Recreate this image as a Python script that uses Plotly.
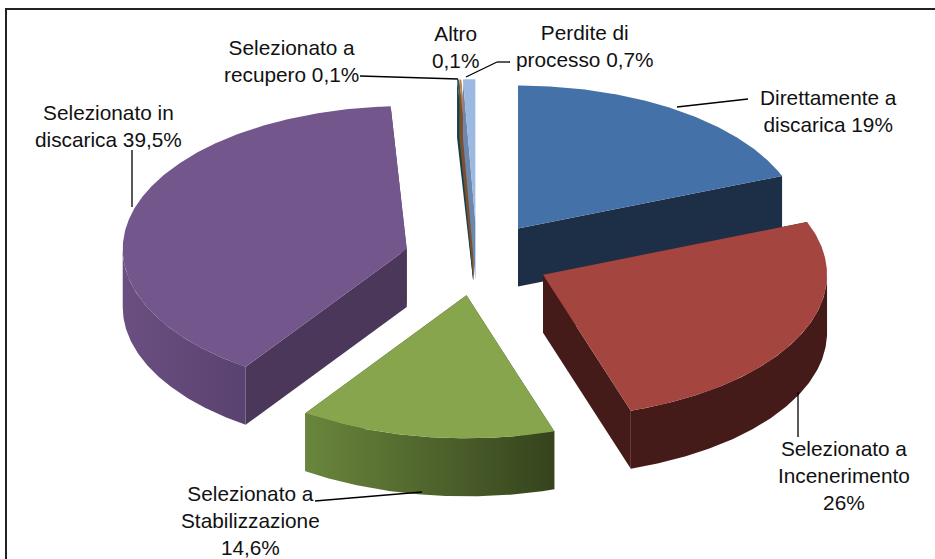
import math
import plotly.graph_objects as go

# Data
labels = ["Direttamente a<br>discarica 19%", "Selezionato a<br>Incenerimento<br>26%",
          "Selezionato a<br>Stabilizzazione<br>14,6%", "Selezionato in<br>discarica 39,5%",
          "Selezionato a<br>recupero 0,1%", "Altro<br>0,1%", "Perdite di<br>processo 0,7%"]
values = [19, 26, 14.6, 39.5, 0.1, 0.1, 0.7]

# Style
top_colors = ["#4472a8", "#a54540", "#87a54c", "#72568c", "#1f5f6b", "#c07f45", "#9db9e2"]
wall_colors = [["#1c2f47", "#1c2f47"], ["#451b19", "#451b19"], ["#6a863c", "#35431d"],
               ["#6a4f80", "#5a4270"], ["#123f49", "#123f49"], ["#7a5030", "#7a5030"], ["#6e88ad", "#6e88ad"]]
cut_colors = ["#1c2f47", "#451b19", "#35431d", "#4b3759", "#123f49", "#7a5030", "#6e88ad"]

# Projection of the tilted pie into the picture's pixel space
CX, CY, RX, RY, DEPTH, PULL = 477, 259, 284, 143, 58, 0.257
draw_order = [4, 5, 6, 0, 3, 2, 1]

total = sum(values)
angles = [0]
for v in values:
    angles.append(angles[-1] + v / total * 360)


def arc(ax, ay, a0, a1, dy=0):
    n = max(2, int(abs(a1 - a0)) * 2)
    pts = [a0 + (a1 - a0) * i / n for i in range(n + 1)]
    return ([ax + RX * math.sin(math.radians(t)) for t in pts],
            [ay - RY * math.cos(math.radians(t)) + dy for t in pts])


def poly(xs, ys, color, grad=None, name=""):
    tr = dict(x=xs + xs[:1], y=ys + ys[:1], mode="lines", fill="toself", line=dict(width=0),
              hoverinfo="skip", showlegend=False, name=name)
    if grad:
        tr["fillgradient"] = dict(type="horizontal", colorscale=[[0, grad[0]], [1, grad[1]]])
    else:
        tr["fillcolor"] = color
    return go.Scatter(**tr)


fig = go.Figure()
for i in draw_order:
    a0, a1 = angles[i], angles[i + 1]
    mid = math.radians((a0 + a1) / 2)
    ax = CX + PULL * RX * math.sin(mid)
    ay = CY - PULL * RY * math.cos(mid)
    # radial cut faces
    for a in (a0, a1):
        ex = ax + RX * math.sin(math.radians(a))
        ey = ay - RY * math.cos(math.radians(a))
        fig.add_trace(poly([ax, ex, ex, ax], [ay, ey, ey + DEPTH, ay + DEPTH], cut_colors[i]))
    # outer wall (front half only)
    w0, w1 = max(a0, 90), min(a1, 270)
    if w1 > w0:
        tx, ty = arc(ax, ay, w0, w1)
        bx, by = arc(ax, ay, w0, w1, DEPTH)
        fig.add_trace(poly(tx + bx[::-1], ty + by[::-1], None, grad=wall_colors[i]))
    # top face
    tx, ty = arc(ax, ay, a0, a1)
    fig.add_trace(poly([ax] + tx, [ay] + ty, top_colors[i], name=labels[i]))

# Label placement
label_pos = [(828, 111), (844, 475), (250, 520), (108, 126), (291, 61), (455, 47), (585, 46)]
leaders = [[(677, 107), (748, 99)], [(798, 392), (798, 437)], [(315, 501), (422, 492)],
           [(132, 150), (132, 207)], [(360, 76), (458, 79)], [], [(466, 77), (497, 62), (510, 62)]]

shapes = [dict(type="line", xref="x", yref="y", x0=6, y0=9, x1=935, y1=9, line=dict(color="#222", width=2), layer="below"),
          dict(type="line", xref="x", yref="y", x0=6, y0=8, x1=6, y1=559, line=dict(color="#222", width=2), layer="below")]
for pts in leaders:
    for p, q in zip(pts, pts[1:]):
        shapes.append(dict(type="line", xref="x", yref="y", x0=p[0], y0=p[1], x1=q[0], y1=q[1],
                           line=dict(color="#000", width=1.3)))

annotations = [dict(x=x, y=y, xref="x", yref="y", text=t, showarrow=False, align="center",
                    font=dict(family="Liberation Sans", size=20.8, color="#111"))
               for t, (x, y) in zip(labels, label_pos)]

fig.update_layout(width=935, height=559, margin=dict(l=0, r=0, t=0, b=0), autosize=False,
                  paper_bgcolor="white", plot_bgcolor="white", showlegend=False,
                  xaxis=dict(range=[0, 935], visible=False, fixedrange=True),
                  yaxis=dict(range=[559, 0], visible=False, fixedrange=True),
                  shapes=shapes, annotations=annotations)
fig.write_html("out.html", config=dict(displayModeBar=False),
               post_script="document.body.style.margin='0';document.body.style.overflow='hidden';")
